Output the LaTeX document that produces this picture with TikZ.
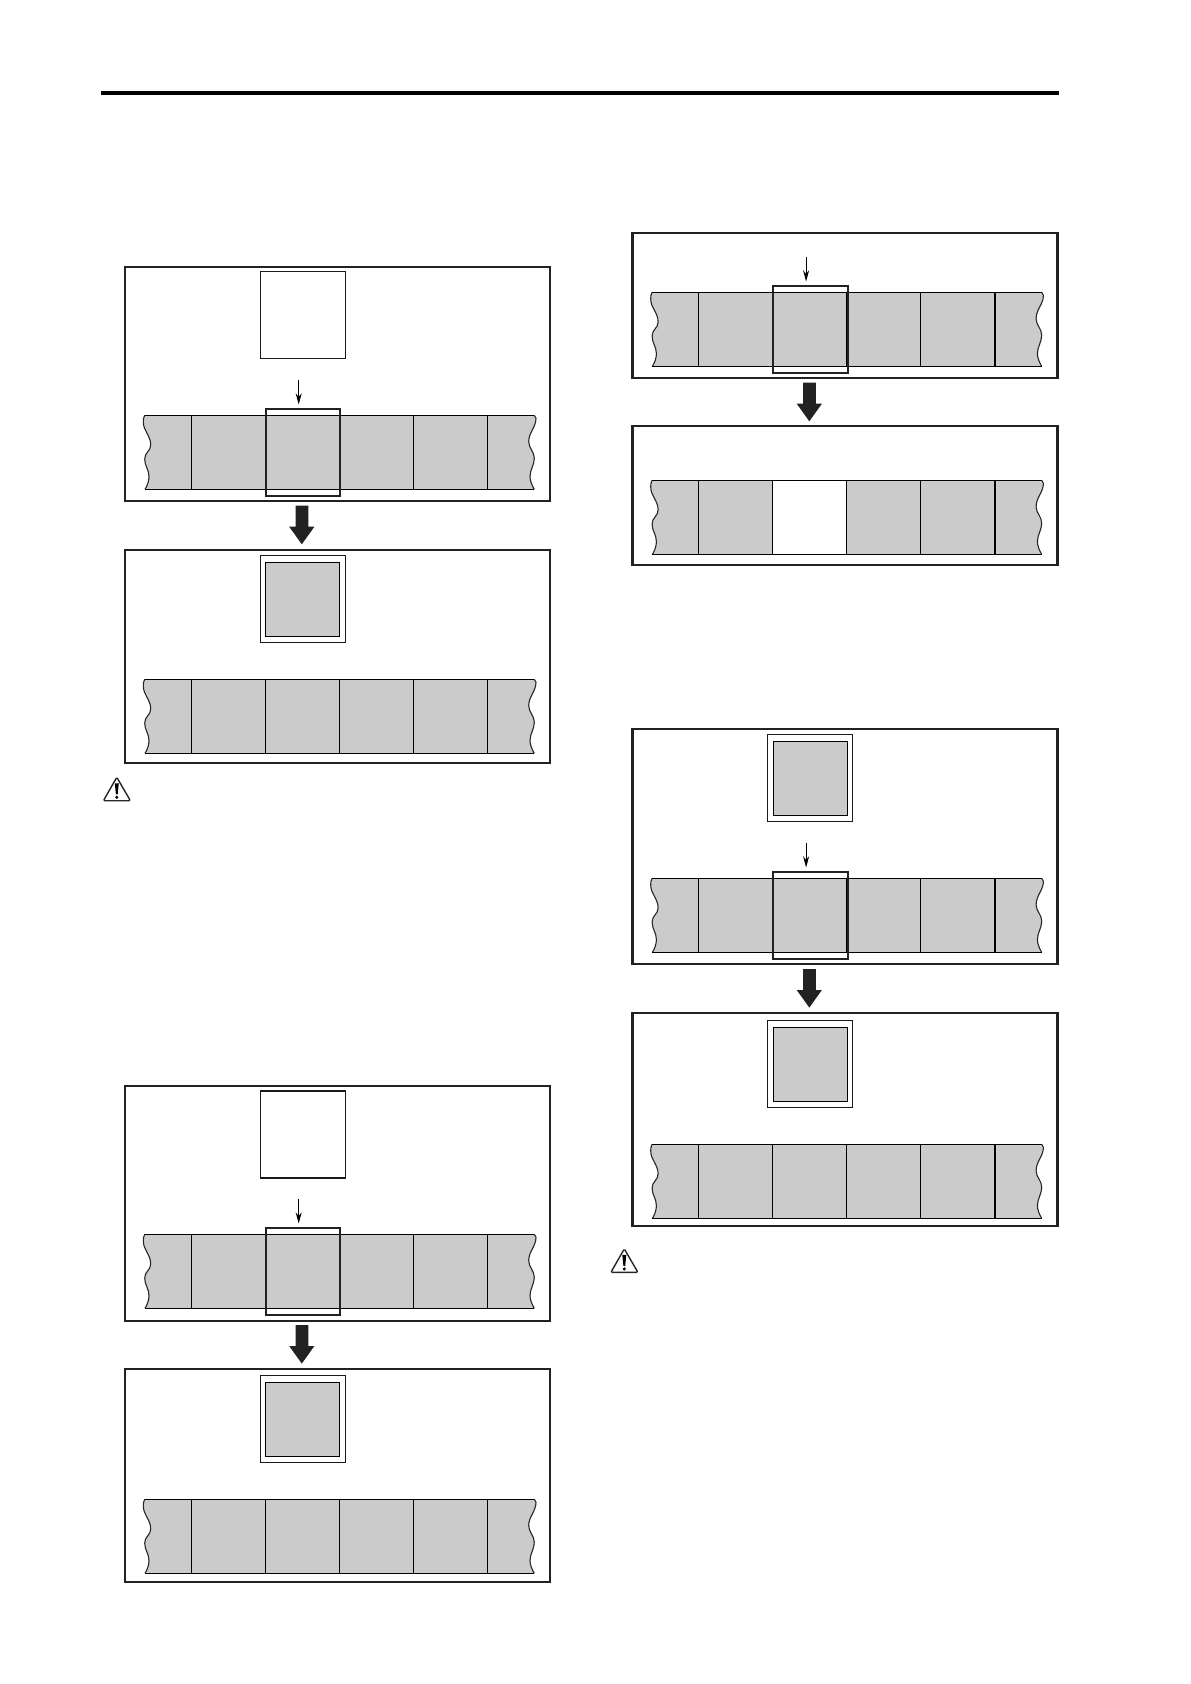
\documentclass[tikz,border=0pt]{standalone}
\usetikzlibrary{arrows.meta}
\definecolor{cellgray}{HTML}{CBCBCB}
\definecolor{framedark}{HTML}{222222}
\tikzset{
  panelframe/.style={draw=framedark,line width=1.1pt},
  stripline/.style={draw=black,line width=0.68pt},
  waveline/.style={draw=black!85,line width=0.55pt},
  cardframe/.style={draw=black!90,line width=0.55pt,fill=white},
  cardinner/.style={draw=black,line width=0.7pt,fill=cellgray},
  marker/.style={draw=framedark,line width=1pt},
  pointer/.style={draw=black,line width=0.55pt,-{Stealth[length=5.6pt,width=3pt]}},
  bigarrow/.style={fill=framedark,draw=none},
  warnline/.style={draw=black!85,line width=0.7pt,line join=round,rounded corners=0.6pt}
}
\newcommand{\waveleft}{(144.7,0) .. controls (143.6,2) and (143.3,4) .. (143.3,6.4) .. controls (143.3,16) and (150.7,20) .. (150.7,29.7) .. controls (150.7,36) and (144.7,37) .. (144.7,43.7) .. controls (144.7,51) and (149,54) .. (149,61.4) .. controls (149,66) and (147,71) .. (145,74)}
\newcommand{\waveright}{(534.3,0) .. controls (535.5,1) and (536,2) .. (536,3) .. controls (536,12) and (528.7,17) .. (528.7,26.4) .. controls (528.7,33) and (534.3,36) .. (534.3,43) .. controls (534.3,50) and (530,54) .. (530,61.4) .. controls (530,66) and (532.5,71) .. (534.3,74)}
\newcommand{\waverightback}{(534.3,74) .. controls (532.5,71) and (530,66) .. (530,61.4) .. controls (530,54) and (534.3,50) .. (534.3,43) .. controls (534.3,36) and (528.7,33) .. (528.7,26.4) .. controls (528.7,17) and (536,12) .. (536,3) .. controls (536,2) and (535.5,1) .. (534.3,0)}
% strip: #1 = x offset, #2 = y of top edge, #3 = colour of the centre cell
\newcommand{\tapestrip}[3]{%
  \begin{scope}[shift={(#1,#2)}]
    \fill[cellgray] \waveleft -- \waverightback -- cycle;
    \fill[#3] (265.3,0) rectangle (339.5,74);
    \draw[waveline] \waveleft;
    \draw[waveline] \waveright;
    \draw[stripline] (144.7,0) -- (534.3,0) (145,74) -- (534.3,74);
    \foreach \xd in {191.3,265.3,339.4,413.3,487.6} \draw[stripline] (\xd,0) -- (\xd,74);
  \end{scope}}
% frame of a panel: #1 x offset, #2 top, #3 bottom
\newcommand{\paneloutline}[3]{\draw[panelframe] (125+#1,#2) rectangle (550+#1,#3);}
% square card: #1 x offset, #2 top
\newcommand{\emptycard}[2]{\draw[cardframe] (260.3+#1,#2) rectangle (345.5+#1,#2+87);}
% #3 = x offset of the inner square
\newcommand{\fullcard}[3]{\emptycard{#1}{#2}\draw[cardinner] (265.3+#3,#2+7) rectangle (339.6+#3,#2+81);}
% pointer and marker: #1 x offset, #2 strip top
\newcommand{\pickmark}[2]{%
  \draw[marker] (265.8+#1,#2-6.7) rectangle (340.2+#1,#2+80.8);
  \draw[pointer] (298.7+#1,#2-35.4) -- (298.7+#1,#2-10.8);}
% wide arrow: #1 x offset, #2 top
\newcommand{\flowarrow}[2]{\fill[bigarrow] (295.6+#1,#2) -- (308.4+#1,#2) -- (308.4+#1,#2+21) -- (314.4+#1,#2+21) -- (301.8+#1,#2+38.6) -- (289.2+#1,#2+21) -- (295.6+#1,#2+21) -- cycle;}
% warning sign: #1 apex x, #2 apex y
\newcommand{\warnsign}[2]{%
  \begin{scope}[shift={(#1,#2)}]
    \draw[warnline] (0,0) -- (13.6,23.4) -- (-13.4,23.4) -- cycle;
    \fill[black] (-2,6) -- (2,6) -- (.9,17) -- (-.9,17) -- cycle;
    \fill[black] (0,20) circle[radius=1.7];
  \end{scope}}
\begin{document}
\begin{tikzpicture}[x=0.5pt,y=-0.5pt]
\useasboundingbox (0,0) rectangle (1190,1684);
\fill[white] (0,0) rectangle (1190,1684);
\fill[black] (101,91) rectangle (1059,95);

% left column, upper pair
\paneloutline{0}{267}{500.7}
\emptycard{0}{271.5}
\tapestrip{0}{415.3}{cellgray}
\pickmark{0}{415.3}
\flowarrow{0}{505.7}
\paneloutline{0}{550}{762.7}
\fullcard{0}{555.5}{0}
\tapestrip{0}{679.3}{cellgray}
\warnsign{116.8}{777.3}

% left column, lower pair
\paneloutline{0}{1086}{1320.7}
\emptycard{0}{1091}
\tapestrip{0}{1234.3}{cellgray}
\pickmark{0}{1234.3}
\flowarrow{0}{1325}
\paneloutline{0}{1369}{1581.7}
\fullcard{0}{1375.3}{0}
\tapestrip{0}{1499.3}{cellgray}

% right column, upper pair
\paneloutline{507.5}{233}{377.7}
\tapestrip{507.4}{292.3}{cellgray}
\pickmark{507.4}{292.3}
\flowarrow{507.5}{382.7}
\paneloutline{507.5}{426}{564.7}
\tapestrip{507.4}{480.3}{white}

% right column, lower pair
\paneloutline{507.5}{729}{964}
\fullcard{507.2}{734.3}{508}
\tapestrip{507.4}{878.3}{cellgray}
\pickmark{507.4}{878.3}
\flowarrow{507.5}{969}
\paneloutline{507.5}{1013}{1226}
\fullcard{507.2}{1020.3}{508}
\tapestrip{507.4}{1144.3}{cellgray}
\warnsign{624.3}{1248.9}
\end{tikzpicture}
\end{document}
